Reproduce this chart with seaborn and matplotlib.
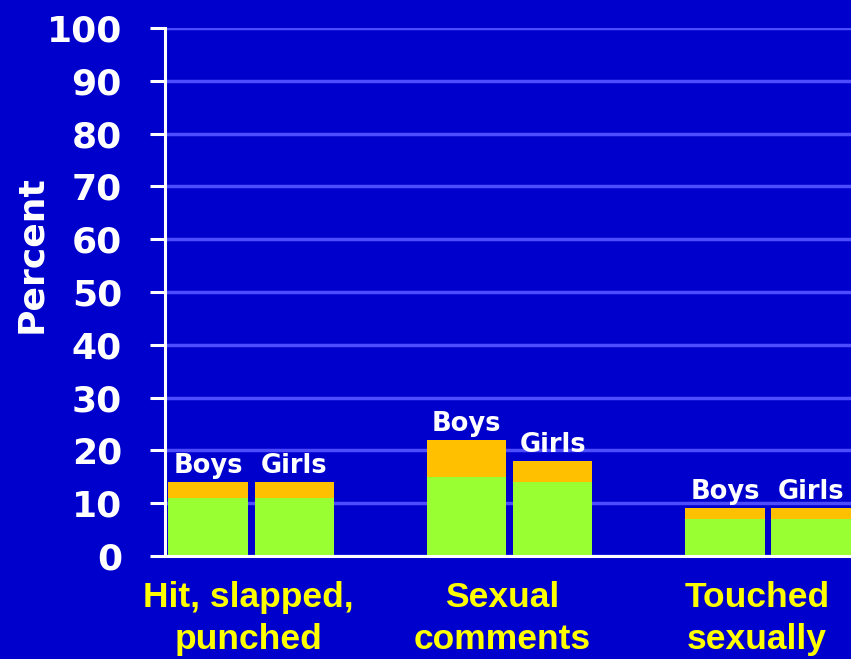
import matplotlib
matplotlib.use("Agg")
import matplotlib.pyplot as plt
import matplotlib.transforms as mtransforms
import seaborn as sns
import pandas as pd

categories = ["Hit, slapped,\npunched", "Sexual\ncomments", "Touched\nsexually"]
groups = ["Boys", "Girls"]
green_vals = [11, 11, 15, 14, 7, 7]      # lower (green) segment, order: cat x group
total_vals = [14, 14, 22, 18, 9, 9]      # full stacked height
yticks = [0, 10, 20, 30, 40, 50, 60, 70, 80, 90, 100]

rows = []
i = 0
for c in categories:
    for g in groups:
        rows.append({"cat": c, "group": g, "green": green_vals[i], "total": total_vals[i]})
        i += 1
df = pd.DataFrame(rows)

sns.set_theme(style="white")
plt.rcParams["font.family"] = ["DejaVu Sans"]

BG = "#0000CC"
GRID = "#4D4DFF"
GREEN = "#99FF33"
ORANGE = "#FFC000"

fig = plt.figure(figsize=(8.51, 6.59), dpi=100, facecolor=BG)
ax = fig.add_axes([165 / 851, (659 - 556) / 659, 1 - 165 / 851, (556 - 28) / 659])
ax.set_facecolor(BG)

sns.barplot(data=df, x="cat", y="total", hue="group", hue_order=groups,
            palette=[ORANGE, ORANGE], width=0.666, gap=0.08, saturation=1,
            legend=False, ax=ax, zorder=3, linewidth=0, errorbar=None)
sns.barplot(data=df, x="cat", y="green", hue="group", hue_order=groups,
            palette=[GREEN, GREEN], width=0.666, gap=0.08, saturation=1,
            legend=False, ax=ax, zorder=4, linewidth=0, errorbar=None)

ax.set_ylim(0, 100)
ax.set_xlim(-0.333, 2.321)
ax.set_yticks(yticks)
ax.set_yticklabels([str(t) for t in yticks])
ax.yaxis.grid(True, color=GRID, linewidth=2.5, zorder=0)
ax.xaxis.grid(False)
ax.set_axisbelow(True)

for s in ["top", "right"]:
    ax.spines[s].set_visible(False)
for s in ["left", "bottom"]:
    ax.spines[s].set_color("white")
    ax.spines[s].set_linewidth(2.2)
    ax.spines[s].set_zorder(5)

ax.tick_params(axis="y", left=True, colors="white", length=11, width=2.2, pad=20,
               labelsize=26, direction="out")
ax.tick_params(axis="x", bottom=True, length=0, pad=18, labelsize=25.5, labelcolor="#FFFF00")
for lab in ax.get_yticklabels():
    lab.set_fontweight("bold")
x_shifts_px = [-3, -7, -11]
for lab, dx in zip(ax.get_xticklabels(), x_shifts_px):
    lab.set_fontweight("bold")
    lab.set_family(["Liberation Sans", "DejaVu Sans"])
    lab.set_linespacing(1.36)
    lab.set_transform(lab.get_transform() +
                      mtransforms.ScaledTranslation(dx / 100, 0, fig.dpi_scale_trans))

ax.set_xlabel("")
ax.set_ylabel("")
fig.text(31 / 851, 1 - 254 / 659, "Percent", rotation=90, color="white",
         fontsize=26, fontweight="bold", ha="center", va="center")

# Boys / Girls labels above bars
offsets = [-0.1667, 0.1667]
i = 0
for ci, c in enumerate(categories):
    for gi, g in enumerate(groups):
        ax.text(ci + offsets[gi], total_vals[i] + 0.6, g, ha="center", va="bottom",
                color="white", fontsize=18.5, fontweight="bold", zorder=6)
        i += 1

fig.savefig("out.png", dpi=100, facecolor=BG)
